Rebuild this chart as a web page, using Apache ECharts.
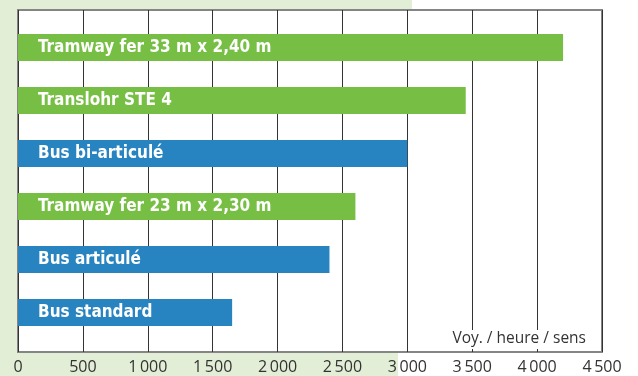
<!DOCTYPE html>
<html>
<head>
<meta charset="utf-8">
<script src="https://cdn.jsdelivr.net/npm/echarts@6/dist/echarts.min.js"></script>
<style>
    html, body { margin: 0; padding: 0; background: #fff; }
    #chart { width: 638px; height: 376px; }
</style>
</head>
<body>
<div id="chart"></div>
<script>
    // data
    const categories = ["Tramway fer 33 m x 2,40 m", "Translohr STE 4", "Bus bi-articulé",
        "Tramway fer 23 m x 2,30 m", "Bus articulé", "Bus standard"];
    const values = [4200, 3450, 3000, 2600, 2400, 1650];
    const kinds = ["tram", "tram", "bus", "tram", "bus", "bus"];
    const xTicks = [0, 500, 1000, 1500, 2000, 2500, 3000, 3500, 4000, 4500];
    const unitLabel = "Voy. / heure / sens";

    const COLORS = {tram: "#76bf44", bus: "#2884c0"};
    const PAGE_GREEN = "#e3eed7";
    const fmt = (v) => v >= 1000 ? String(v).replace(/(\d)(\d{3})$/, "$1\u2009$2") : String(v);

    const chart = echarts.init(document.getElementById("chart"));

    chart.setOption({
        backgroundColor: "#fff",
        animation: false,
        graphic: [
            {type: "rect", z: -10, shape: {x: 0, y: 0, width: 412, height: 352}, style: {fill: PAGE_GREEN}},
            {type: "rect", z: -10, shape: {x: 0, y: 352, width: 398, height: 24}, style: {fill: PAGE_GREEN}},
            {
                type: "text", right: 49, top: 330, z: 20,
                style: {
                    text: unitLabel, fill: "#333", fontSize: 15.5,
                    fontFamily: "'Open Sans', sans-serif",
                    backgroundColor: "#fff", padding: [1, 3, 2, 3]
                }
            }
        ],
        grid: [
            {left: 18, right: 36, top: 10, height: 342, show: true, backgroundColor: "#fff",
                borderColor: "#858585", borderWidth: 2},
            {left: 18, right: 36, top: 21, height: 318}
        ],
        xAxis: [
            {
                gridIndex: 0, type: "value", min: xTicks[0], max: xTicks[xTicks.length - 1], interval: 500,
                axisLine: {show: false}, axisTick: {show: false},
                splitLine: {lineStyle: {color: "#333", width: 1}},
                axisLabel: {
                    formatter: fmt, color: "#333", fontSize: 16, margin: 7,
                    fontFamily: "'Open Sans', sans-serif"
                }
            },
            {gridIndex: 1, type: "value", min: 0, max: 4500, show: false}
        ],
        yAxis: [
            {gridIndex: 0, type: "value", show: false, splitLine: {show: false}},
            {gridIndex: 1, type: "category", data: categories, inverse: true, show: false}
        ],
        series: [{
            type: "bar",
            xAxisIndex: 1,
            yAxisIndex: 1,
            barWidth: 27,
            z: 5,
            data: values.map((v, i) => ({value: v, itemStyle: {color: COLORS[kinds[i]]}})),
            label: {
                show: true,
                position: "insideLeft",
                distance: 20,
                formatter: "{b}",
                color: "#fff",
                fontSize: 17,
                fontWeight: "bold",
                fontFamily: "'Liberation Sans Narrow', 'DejaVu Sans Condensed', sans-serif"
            }
        }]
    });
</script>
</body>
</html>
